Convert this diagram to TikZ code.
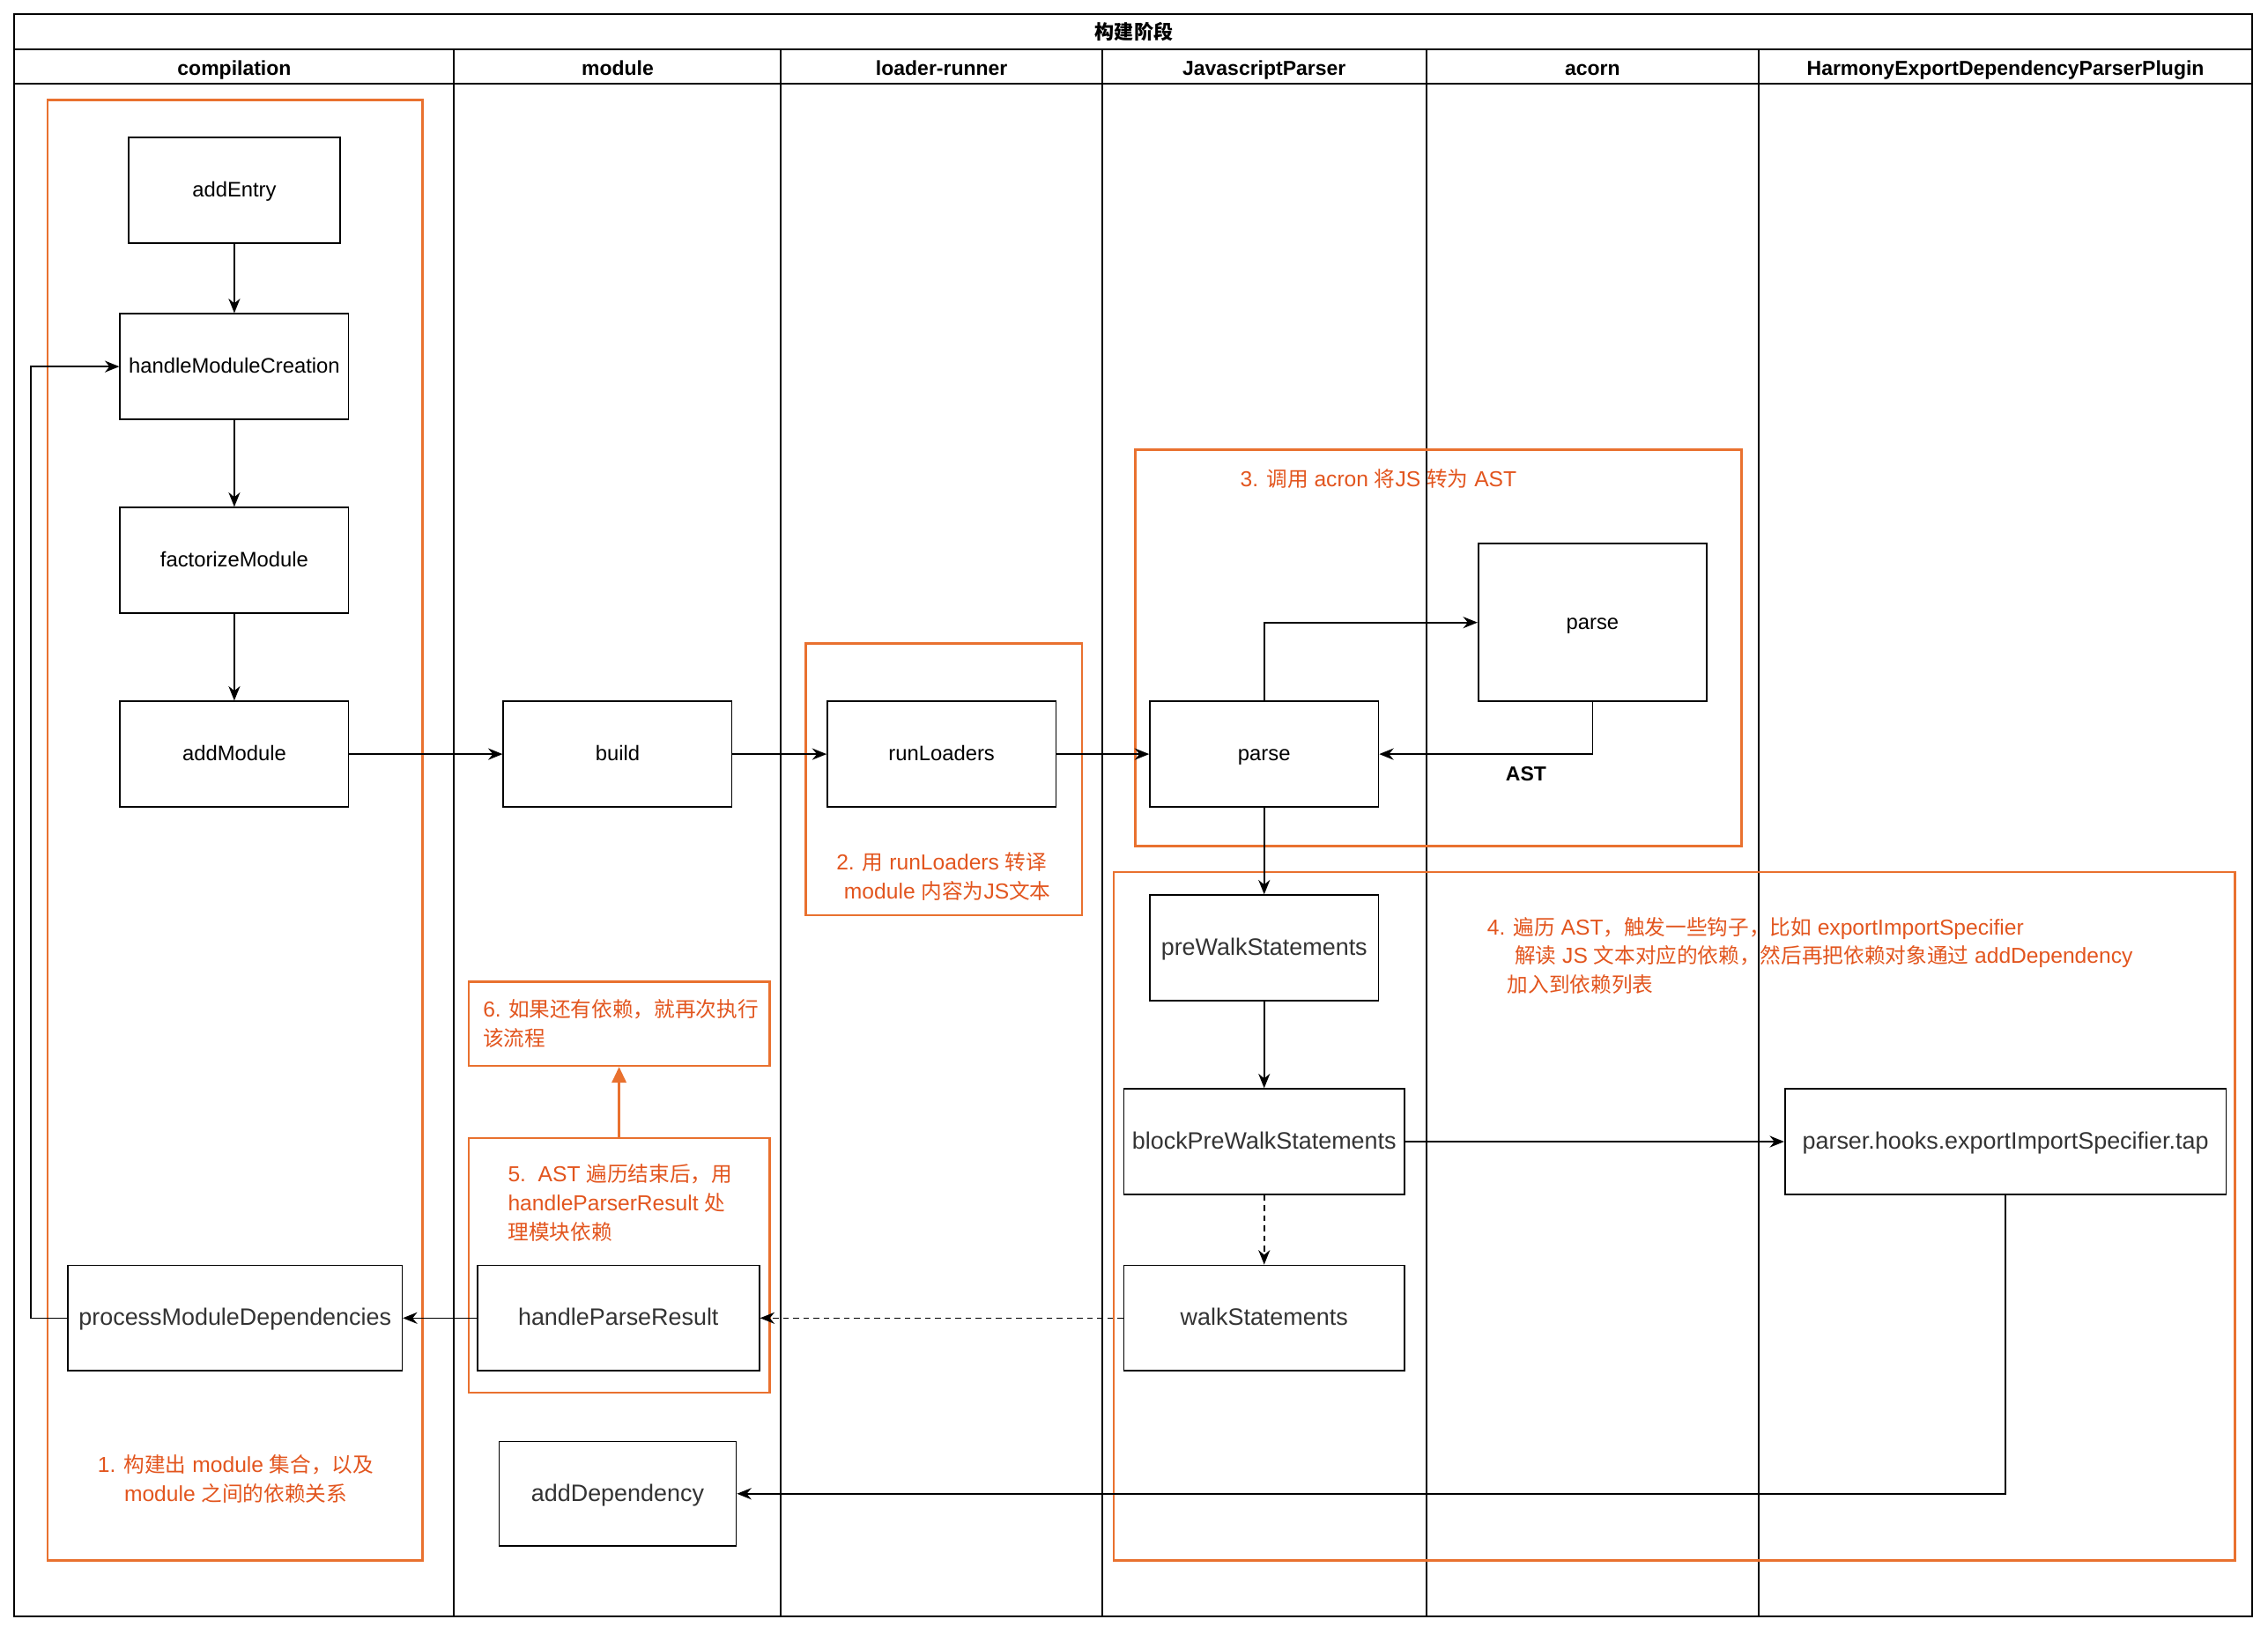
\documentclass[tikz,border=0pt]{standalone}
\usepackage{fontspec}
\setmainfont{Liberation Sans}
\newfontfamily\zh[Scale=0.96]{Noto Sans CJK SC}
\usepackage{tikz}
\usepackage{xcolor}
\usetikzlibrary{arrows.meta}
\definecolor{frameorange}{HTML}{E9712F}
\definecolor{noteorange}{HTML}{E2551E}

\begin{document}
\begin{tikzpicture}[x=1pt,y=-1pt,>={Stealth[length=10pt,width=8pt]},
  box/.style={draw,fill=white,line width=1pt,minimum height=73pt,inner sep=2pt,text height=12pt,text depth=3pt,font=\fontsize{14.5}{18}\selectfont},
  bigbox/.style={box,text=black!80,text height=13.6pt,text depth=3.4pt,font=\fontsize{16.4}{20}\selectfont},
  lane/.style={anchor=base,font=\bfseries\fontsize{14}{17}\selectfont},
  grid/.style={line width=1.2pt},
  frame/.style={draw=frameorange,line width=1.6pt},
  note/.style={text=noteorange,font=\fontsize{15}{20}\selectfont,inner sep=0pt},
  flow/.style={->,line width=1pt}]
\useasboundingbox (0,0) rectangle (1568,1129.4);
\draw[grid](10,10) rectangle (1557,1118);
\draw[grid](10,34)--(1557,34) (10,58)--(1557,58);
\foreach \x in {314,540,762,986,1216}
  \draw[grid](\x,34)--(\x,1118);
\node[lane] (title) at (784,27) {\zh 构建阶段};
\foreach \x/\name/\txt in {162/hcompilation/compilation,427/hmodule/module,651/hloader/loader-runner,
  874/hparser/JavascriptParser,1101/hacorn/acorn,1386.5/hharmony/HarmonyExportDependencyParserPlugin}
  \node[lane] (\name) at (\x,52) {\txt};
\draw[frame](33,69) rectangle (292,1079);
\draw[frame](557,445) rectangle (748,633);
\draw[frame](785,311) rectangle (1204,585);
\draw[frame](770,603) rectangle (1545,1079);
\draw[frame](324,787) rectangle (532,963);
\coordinate (frameEtop) at (428,787);
\node[box,minimum width=146pt] (addEntry) at (162,131.5) {addEntry};
\node[box,minimum width=158pt] (hmc) at (162,253.5) {handleModuleCreation};
\node[box,minimum width=158pt] (factorize) at (162,387.5) {factorizeModule};
\node[box,minimum width=158pt] (addModule) at (162,521.5) {addModule};
\node[box,minimum width=158pt] (build) at (427,521.5) {build};
\node[box,minimum width=158pt] (runLoaders) at (651,521.5) {runLoaders};
\node[box,minimum width=158pt] (jsparse) at (874,521.5) {parse};
\node[box,minimum width=158pt,minimum height=109pt] (acparse) at (1101,430.5) {parse};
\node[bigbox,minimum width=158pt] (prewalk) at (874,655.5) {preWalkStatements};
\node[bigbox,minimum width=194pt] (blockprewalk) at (874,789.5) {blockPreWalkStatements};
\node[bigbox,minimum width=194pt] (walk) at (874,911.5) {walkStatements};
\node[bigbox,minimum width=305pt] (hooktap) at (1386.5,789.5) {parser.hooks.exportImportSpecifier.tap};
\node[bigbox,minimum width=231pt] (moddeps) at (162.5,911.5) {processModuleDependencies};
\node[bigbox,minimum width=195pt] (parseresult) at (427.5,911.5) {handleParseResult};
\node[bigbox,minimum width=164pt,minimum height=72pt] (adddep) at (427,1033) {addDependency};
\node[note,align=center] (note1) at (163,1023) {1. {\zh 构建出} module {\zh 集合，以及}\\module {\zh 之间的依赖关系}};
\node[note,align=center] (note2) at (651,606) {2. {\zh 用} runLoaders {\zh 转译}\\\hspace*{8pt}module {\zh 内容为}JS{\zh 文本}};
\node[note] (note3) at (953,331) {3. {\zh 调用} acron {\zh 将}JS {\zh 转为} AST};
\node[note,align=left,anchor=north west] (note4) at (1028,634) {4. {\zh 遍历} AST{\zh ，触发一些钩子，比如} exportImportSpecifier\\
  \hspace*{19pt}{\zh 解读} JS {\zh 文本对应的依赖，然后再把依赖对象通过} addDependency\\
  \hspace*{14pt}{\zh 加入到依赖列表}};
\node[note,align=left,anchor=north west] (note5) at (351,805) {5.\ \ AST {\zh 遍历结束后，用}\\handleParserResult {\zh 处}\\{\zh 理模块依赖}};
\node[note,draw=frameorange,line width=1.6pt,align=left,text width=204pt,inner xsep=2pt,minimum height=58pt] (note6) at (428,708)
  {\hspace*{8pt}6.~{\zh 如果还有依赖，就再次执行}\\\hspace*{8pt}{\zh 该流程}};
\node[font=\bfseries\fontsize{14}{17}\selectfont] (astlabel) at (1055,535) {AST};
\draw[flow](addEntry)--(hmc);
\draw[flow](hmc)--(factorize);
\draw[flow](factorize)--(addModule);
\draw[flow](addModule)--(build);
\draw[flow](build)--(runLoaders);
\draw[flow](runLoaders)--(jsparse);
\draw[flow](jsparse.north)|-(acparse.west);
\draw[flow](acparse.south)|-(jsparse.east);
\draw[flow](jsparse)--(prewalk);
\draw[flow](prewalk)--(blockprewalk);
\draw[flow,dash pattern=on 4pt off 3pt](blockprewalk)--(walk);
\draw[flow](blockprewalk)--(hooktap);
\draw[flow,dash pattern=on 4pt off 3pt](walk)--(parseresult);
\draw[flow](parseresult)--(moddeps);
\draw[flow](moddeps.west)--++(-25,0)|-(hmc.west);
\draw[flow](hooktap.south)|-(adddep.east);
\draw[-{Triangle[length=11pt,width=10pt]},draw=frameorange,fill=frameorange,line width=1.6pt](frameEtop)--(note6.south);
\end{tikzpicture}
\end{document}
